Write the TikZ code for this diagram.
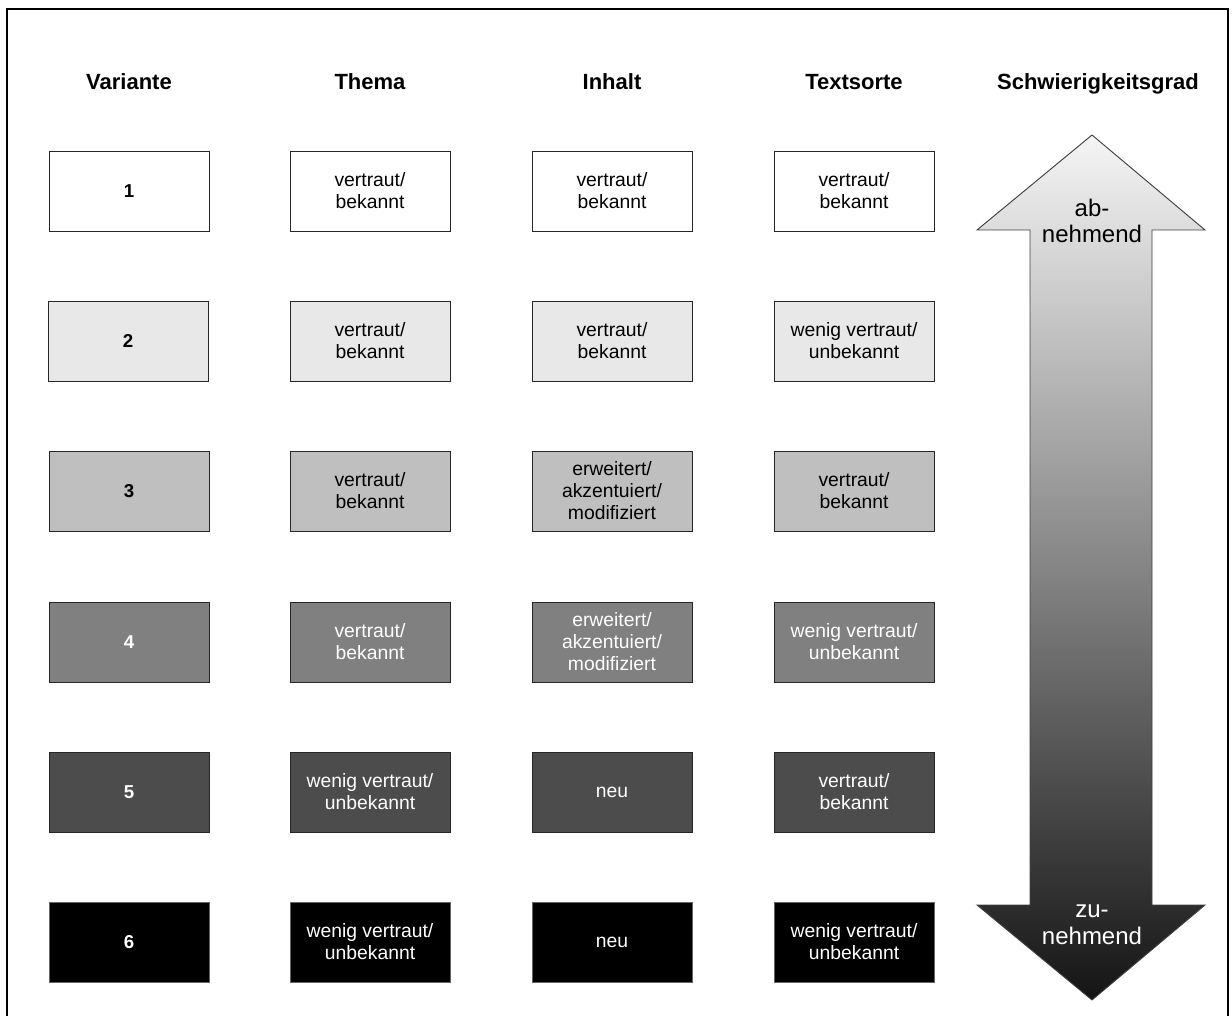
\documentclass[tikz,border=0pt]{standalone}
\usepackage{fontspec}
\setmainfont{Liberation Sans}
\usepackage{tikz}
\usetikzlibrary{positioning}
\definecolor{lvl2}{gray}{0.91}
\definecolor{lvl3}{gray}{0.75}
\definecolor{lvl4}{gray}{0.5}
\definecolor{lvl5}{gray}{0.3}

\begin{document}
\begin{tikzpicture}[
		x=0.75pt, y=-0.75pt,
		every node/.style={font=\fontsize{14.5}{16.5}\selectfont},
		cell/.style={draw=black!85, line width=0.7pt, align=center, minimum width=120pt, minimum height=60pt, inner sep=2pt},
		num/.style={font=\fontsize{14}{16.5}\selectfont\bfseries},
		c1/.style={cell, fill=white},
		c2/.style={cell, fill=lvl2},
		c3/.style={cell, fill=lvl3},
		c4/.style={cell, fill=lvl4, text=white},
		c5/.style={cell, fill=lvl5, text=white},
		c6/.style={cell, fill=black, draw=black!60, text=white},
		head/.style={font=\fontsize{16.5}{19}\selectfont\bfseries, anchor=base},
		big/.style={font=\fontsize{18}{20}\selectfont, align=center}
	]
		\useasboundingbox (0,0) rectangle (1232,1016);
		\draw[line width=1.5pt] (7,1016) -- (7,9) -- (1228,9) -- (1228,1016);

		% column heads
		\node[head] (hvar) at (129,90) {Variante};
		\node[head] (hthema) at (370,90) {Thema};
		\node[head] (hinhalt) at (612,90) {Inhalt};
		\node[head] (hsorte) at (854,90) {Textsorte};
		\node[head] (hgrad) at (1098,90) {Schwierigkeitsgrad};

		% row 1
		\node[c1, num] (var1) at (129,191) {1};
		\node[c1] (thema1) at (370,191) {vertraut/\\bekannt};
		\node[c1] (inhalt1) at (612,191) {vertraut/\\bekannt};
		\node[c1] (sorte1) at (854,191) {vertraut/\\bekannt};
		% row 2
		\node[c2, num] (var2) at (128,341) {2};
		\node[c2] (thema2) at (370,341) {vertraut/\\bekannt};
		\node[c2] (inhalt2) at (612,341) {vertraut/\\bekannt};
		\node[c2] (sorte2) at (854,341) {wenig vertraut/\\unbekannt};
		% row 3
		\node[c3, num] (var3) at (129,491) {3};
		\node[c3] (thema3) at (370,491) {vertraut/\\bekannt};
		\node[c3] (inhalt3) at (612,491) {erweitert/\\akzentuiert/\\modifiziert};
		\node[c3] (sorte3) at (854,491) {vertraut/\\bekannt};
		% row 4
		\node[c4, num] (var4) at (129,642) {4};
		\node[c4] (thema4) at (370,642) {vertraut/\\bekannt};
		\node[c4] (inhalt4) at (612,642) {erweitert/\\akzentuiert/\\modifiziert};
		\node[c4] (sorte4) at (854,642) {wenig vertraut/\\unbekannt};
		% row 5
		\node[c5, num] (var5) at (129,792) {5};
		\node[c5] (thema5) at (370,792) {wenig vertraut/\\unbekannt};
		\node[c5] (inhalt5) at (612,792) {neu};
		\node[c5] (sorte5) at (854,792) {vertraut/\\bekannt};
		% row 6
		\node[c6, num] (var6) at (129,942) {6};
		\node[c6] (thema6) at (370,942) {wenig vertraut/\\unbekannt};
		\node[c6] (inhalt6) at (612,942) {neu};
		\node[c6] (sorte6) at (854,942) {wenig vertraut/\\unbekannt};

		% double arrow
		\shade[top color=black!4, middle color=black!32, bottom color=black!92, draw=black!75, line width=0.7pt]
			(1092,135) -- (1205,230) -- (1152,230) -- (1152,905) -- (1205,905) -- (1092,1000)
			-- (977,905) -- (1030,905) -- (1030,230) -- (977,230) -- cycle;
		\node[big] (up) at (1092,221) {ab-\\nehmend};
		\node[big, text=white] (down) at (1092,925) {zu-\\nehmend};
	\end{tikzpicture}
\end{document}
